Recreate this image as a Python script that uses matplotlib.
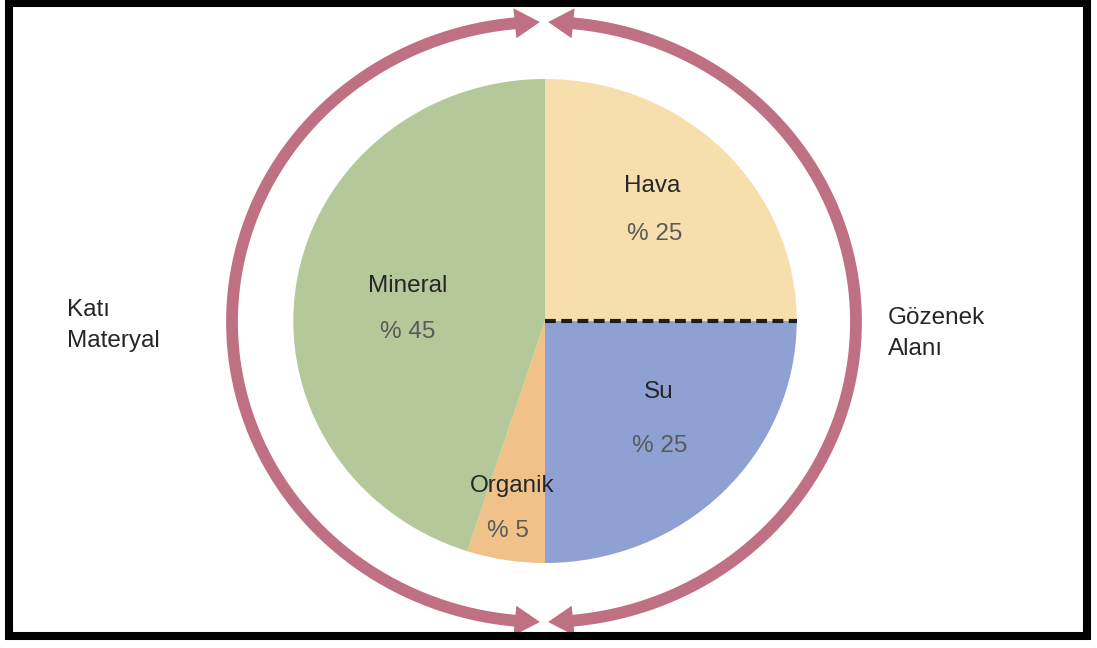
import numpy as np
import matplotlib.pyplot as plt
from matplotlib.patches import Rectangle, Polygon

# pie data (clockwise from 12 o'clock)
labels = ['Hava', 'Su', 'Organik', 'Mineral']
values = [25, 25, 5, 45]
colors = ['#f6dfad', '#8fa0d3', '#f0c289', '#b4c89a']
pct_text = ['% 25', '% 25', '% 5', '% 45']
side_labels = ['Katı\nMateryal', 'Gözenek\nAlanı']

W, H = 1097, 648
sx = 1.04  # the picture is a little wider than tall

def px(x, y):
    # pixel position in the picture -> data coords
    return x / sx, H - y

fig = plt.figure(figsize=(W / 100, H / 100), dpi=100)
ax = fig.add_axes([0, 0, 1, 1])

fonts = ['Liberation Sans', 'DejaVu Sans']
fs = 17.5
ring_col = '#c07083'

# the pie
cx, cy = px(545, 321)
r = 242
wedges, _ = ax.pie(values, colors=colors, startangle=90, counterclock=False,
                   radius=r, center=(cx, cy), wedgeprops=dict(linewidth=0))
ax.set_aspect('auto')
ax.set_xlim(0, W / sx)
ax.set_ylim(0, H)
ax.axis('off')

# dashed line between Hava and Su
ax.plot([cx, cx + r], [cy, cy], color='#1e1e1e', lw=3, dashes=(2.6, 1.3),
        solid_capstyle='butt')

# labels inside the pie (baseline positions in picture pixels)
name_pos = [(652, 192), (659, 398), (512, 492), (408, 292)]
pct_pos = [(655, 240), (660, 452), (508, 537), (408, 338)]
for i in range(len(labels)):
    x, y = px(*name_pos[i])
    ax.text(x, y, labels[i], ha='center', va='baseline', fontsize=fs,
            family=fonts, color='#262626')
    x, y = px(*pct_pos[i])
    ax.text(x, y, pct_text[i], ha='center', va='baseline', fontsize=fs,
            family=fonts, color='#5a5a5a')

# side labels (baseline of the last line)
x, y = px(67, 347)
ax.text(x, y, side_labels[0], ha='left', va='baseline', fontsize=fs,
        family=fonts, color='#262626', linespacing=1.55)
x, y = px(888, 355)
ax.text(x, y, side_labels[1], ha='left', va='baseline', fontsize=fs,
        family=fonts, color='#262626', linespacing=1.5)

# ring of arrows around the pie
rcx, rcy = px(544, 322)
R = 300
tip = np.deg2rad(0.75)
head = np.deg2rad(4.6)
hw = 15


def pt(a, rr):
    return rcx + rr * np.cos(a), rcy + rr * np.sin(a)


def arrow_head(a_tip, a_base):
    return Polygon([pt(a_tip, R), pt(a_base, R - hw), pt(a_base, R + hw)],
                   closed=True, color=ring_col, lw=0)


for a0, a1 in [(np.pi / 2 + tip, 3 * np.pi / 2 - tip),
               (-np.pi / 2 + tip, np.pi / 2 - tip)]:
    t = np.linspace(a0 + head * 0.8, a1 - head * 0.8, 300)
    ax.plot(rcx + R * np.cos(t), rcy + R * np.sin(t), color=ring_col, lw=8.5,
            solid_capstyle='butt')
    ax.add_patch(arrow_head(a0, a0 + head))
    ax.add_patch(arrow_head(a1, a1 - head))

# black frame
x0, y0 = px(9, 636)
x1, y1 = px(1087, 3)
ax.add_patch(Rectangle((x0, y0), x1 - x0, y1 - y0, fill=False,
                       edgecolor='black', lw=5.8, joinstyle='miter'))

fig.savefig('out.png', dpi=100, facecolor='white')
